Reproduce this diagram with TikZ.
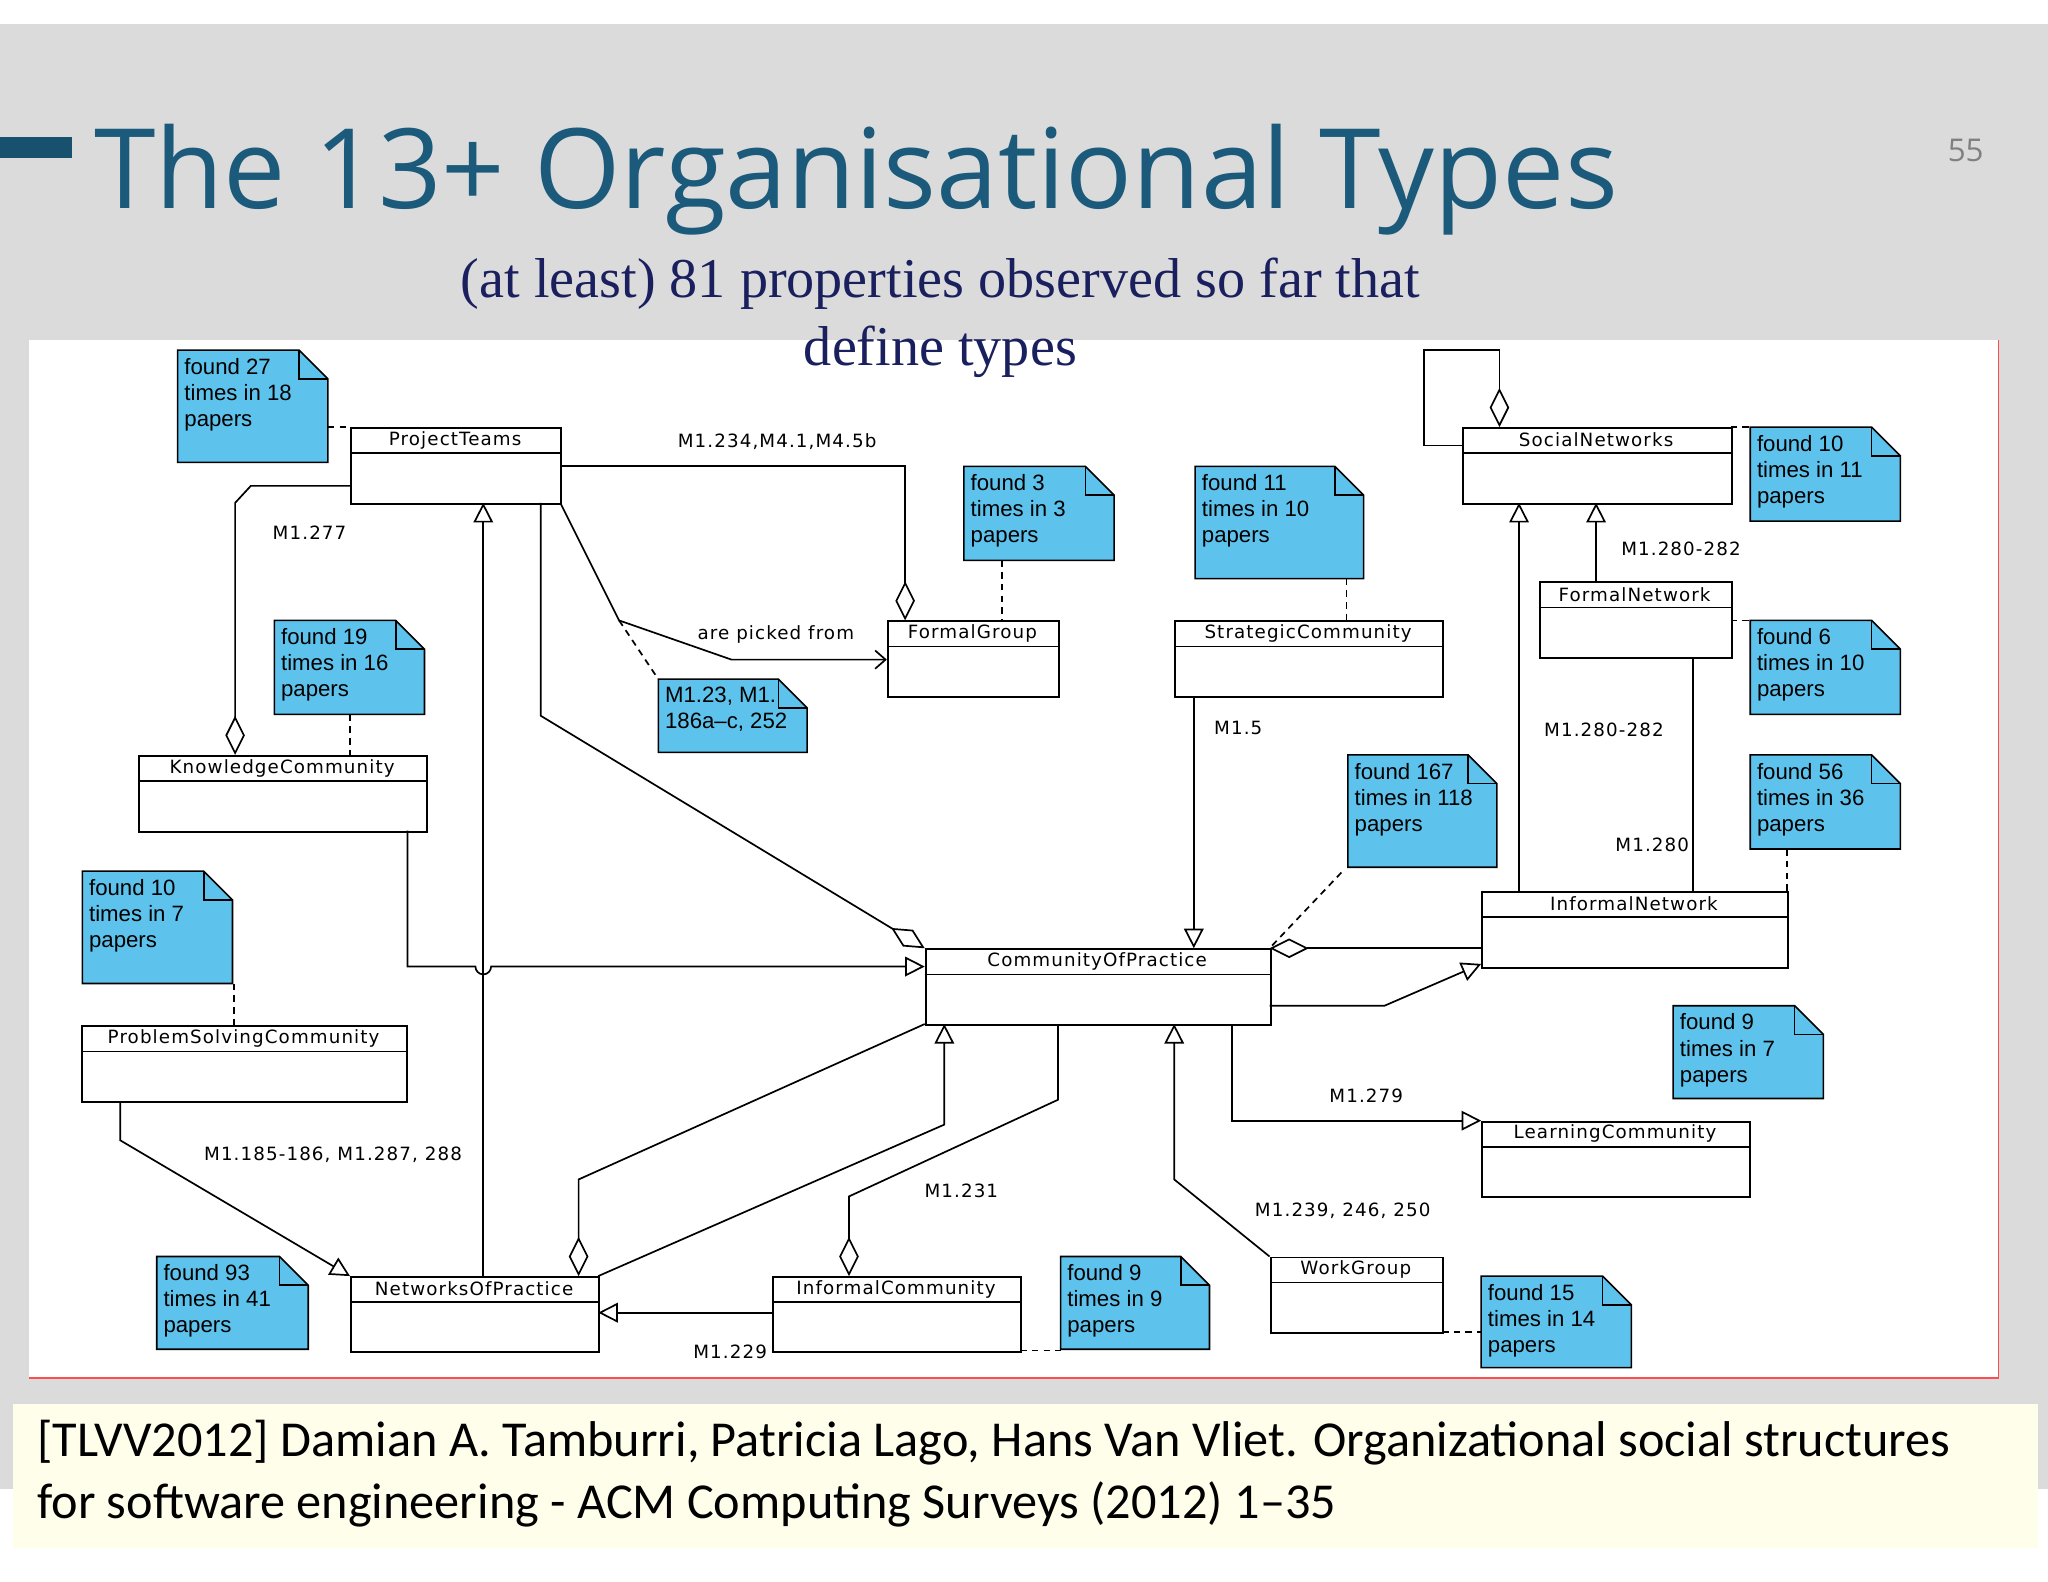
\documentclass[tikz,border=0pt]{standalone}
\usepackage{fontspec}
\setmainfont{Liberation Serif}
\setsansfont{Liberation Sans}
\newfontfamily\titlef{Open Sans}
\newfontfamily\citef{Carlito}
\newfontfamily\diagf[LetterSpace=6]{DejaVu Sans}
\usetikzlibrary{arrows.meta}
\definecolor{notec}{HTML}{5EC3EC}
\definecolor{titc}{HTML}{1B5A7A}
\definecolor{subc}{HTML}{1A1F5E}
\tikzset{
 ln/.style={line width=1.3pt},
 tri/.style={-{Triangle[open,length=15pt,width=15pt]}},
 dia/.style={-{Diamond[open,length=30pt,width=15pt]}},
 dtn/.style={dashed,line width=1.3pt,dash pattern=on 5pt off 4pt},
 lab/.style={font=\diagf\fontsize{14}{17}\selectfont,inner sep=0pt},
}
\newcommand\cls[6]{%
 \node[draw,line width=1.5pt,inner sep=0pt,anchor=north west,minimum width={(#4-#2)*1pt},minimum height={(#5-#3)*1pt}] (#1) at (#2,#3) {};
 \draw[line width=1.3pt] (#2,#3+20)--(#4,#3+20);
 \node[lab] at ({(#2+#4)/2},#3+10) {#6};}
\newcommand\note[6]{%
 \draw[line width=1.2pt,fill=notec] (#2,#3)--(#4-22,#3)--(#4,#3+22)--(#4,#5)--(#2,#5)--cycle;
 \draw[line width=1.2pt] (#4-22,#3)--(#4-22,#3+22)--(#4,#3+22);
 \node[inner sep=0pt,anchor=north west,align=left,font=\sffamily\fontsize{17}{20}\selectfont] (#1) at (#2+5,#3+6) {#6};}
\begin{document}
\begin{tikzpicture}[x=1pt,y=-1pt]
\useasboundingbox (0,0) rectangle (1568,1211);
\fill[white] (0,0) rectangle (1568,1211);
\fill[gray!28] (0,18) rectangle (1568,1140);
\fill[white] (22,260) rectangle (1530,1055);
\draw[red!70,line width=1pt] (1530,260)--(1530,1055)--(22,1055);
\fill[yellow!8] (10,1075) rectangle (1560,1185);
\fill[titc!90!black] (0,105) rectangle (55,121);
\node[anchor=base west,inner sep=0pt,text=titc,font=\titlef\fontsize{85}{95}\selectfont] (title) at (72,160) {The 13+ Organisational Types};
\node[text=gray,font=\titlef\fontsize{24}{26}\selectfont] (pg) at (1505,115) {55};
\node[text=subc,align=center,font=\fontsize{43}{52}\selectfont] (sub) at (720,243) {(at least) 81 properties observed so far that\\define types};
\node[anchor=north west,align=left,font=\citef\fontsize{38.5}{47}\selectfont] (cite) at (25,1084) {[TLVV2012] Damian A. Tamburri, Patricia Lago, Hans Van Vliet. Organizational social structures\\for software engineering - ACM Computing Surveys (2012) 1–35};
% classes
\cls{pt}{268}{327}{429}{385}{ProjectTeams}
\cls{fg}{679}{475}{810}{533}{FormalGroup}
\cls{sc}{899}{475}{1104}{533}{StrategicCommunity}
\cls{sn}{1119}{327}{1325}{385}{SocialNetworks}
\cls{fn}{1178}{445}{1325}{503}{FormalNetwork}
\cls{kc}{106}{578}{326}{636}{KnowledgeCommunity}
\cls{cop}{708}{726}{972}{784}{CommunityOfPractice}
\cls{in}{1134}{682}{1368}{740}{InformalNetwork}
\cls{psc}{62}{785}{311}{843}{ProblemSolvingCommunity}
\cls{lc}{1134}{858}{1339}{916}{LearningCommunity}
\cls{nop}{268}{977}{458}{1034}{NetworksOfPractice}
\cls{ic}{591}{977}{781}{1034}{InformalCommunity}
\cls{wg}{972}{962}{1104}{1020}{WorkGroup}
% notes
\note{n1}{136}{268}{251}{354}{found 27\\times in 18\\papers}
\note{n2}{738}{357}{853}{429}{found 3\\times in 3\\papers}
\note{n3}{915}{357}{1044}{443}{found 11\\times in 10\\papers}
\note{n4}{1340}{327}{1455}{399}{found 10\\times in 11\\papers}
\note{n5}{210}{475}{325}{547}{found 19\\times in 16\\papers}
\note{n6}{504}{520}{618}{576}{M1.23, M1.\\186a–c, 252}
\note{n7}{1340}{475}{1455}{547}{found 6\\times in 10\\papers}
\note{n8}{1032}{578}{1146}{664}{found 167\\times in 118\\papers}
\note{n9}{1340}{578}{1455}{650}{found 56\\times in 36\\papers}
\note{n10}{63}{667}{178}{753}{found 10\\times in 7\\papers}
\note{n11}{1281}{770}{1396}{841}{found 9\\times in 7\\papers}
\note{n12}{120}{962}{236}{1033}{found 93\\times in 41\\papers}
\note{n13}{812}{962}{926}{1033}{found 9\\times in 9\\papers}
\note{n14}{1134}{977}{1249}{1047}{found 15\\times in 14\\papers}
% connectors
\draw[ln,dia] (429,357)--(693,357)--(693,475);
\node[lab] at (595,338) {M1.234,M4.1,M4.5b};
\draw[ln,dia] (268,372)--(192,372)--(180,385)--(180,578);
\node[lab] at (237,408) {M1.277};
\draw[ln,-{Straight Barb[length=8pt,width=14pt]}] (429,385)--(474,475)--(560,505)--(679,505);
\node[lab] at (594,486) {are picked from};
\draw[dtn] (474,475)--(504,520);
\draw[ln,dia] (414,385)--(414,548)--(708,726);
\draw[ln,tri] (370,977)--(370,385);
\draw[ln,tri] (312,636)--(312,740)--(364,740) arc[start angle=180,end angle=0,radius=6]--(708,740);
\draw[ln,dia] (1119,341)--(1090,341)--(1090,268)--(1148,268)--(1148,327);
\draw[ln,tri] (1222,445)--(1222,385);
\node[lab] at (1287,420) {M1.280-282};
\draw[ln,tri] (1163,682)--(1163,385);
\node[lab] at (1228,559) {M1.280-282};
\draw[ln] (1296,503)--(1296,682);
\node[lab] at (1265,647) {M1.280};
\draw[ln,tri] (914,533)--(914,726);
\node[lab] at (948,557) {M1.5};
\draw[ln,-{Diamond[open,length=30pt,width=15pt]}] (1134,726)--(972,726);
\draw[ln,tri] (972,770)--(1060,770)--(1134,738);
\draw[ln,tri] (943,784)--(943,858)--(1134,858);
\node[lab] at (1046,839) {M1.279};
\draw[ln,tri] (972,962)--(899,903)--(899,784);
\node[lab] at (1028,927) {M1.239, 246, 250};
\draw[ln,dia] (810,784)--(810,842)--(650,916)--(650,977);
\node[lab] at (736,912) {M1.231};
\draw[ln,tri] (591,1005)--(458,1005);
\node[lab] at (559,1035) {M1.229};
\draw[ln,dia] (708,784)--(443,903)--(443,977);
\draw[ln,tri] (458,977)--(723,861)--(723,784);
\draw[ln,tri] (92,843)--(92,873)--(268,977);
\node[lab] at (255,884) {M1.185-186, M1.287, 288};
% note links
\draw[dtn] (251,327)--(268,327);
\draw[dtn] (767,429)--(767,475);
\draw[dtn] (1031,443)--(1031,475);
\draw[dtn] (1325,327)--(1340,327);
\draw[dtn] (268,547)--(268,578);
\draw[dtn] (1325,475)--(1340,475);
\draw[dtn] (1027,668)--(972,726);
\draw[dtn] (1368,650)--(1368,682);
\draw[dtn] (179,753)--(179,785);
\draw[dtn] (781,1034)--(812,1034);
\draw[dtn] (1104,1020)--(1134,1020);
\end{tikzpicture}
\end{document}
